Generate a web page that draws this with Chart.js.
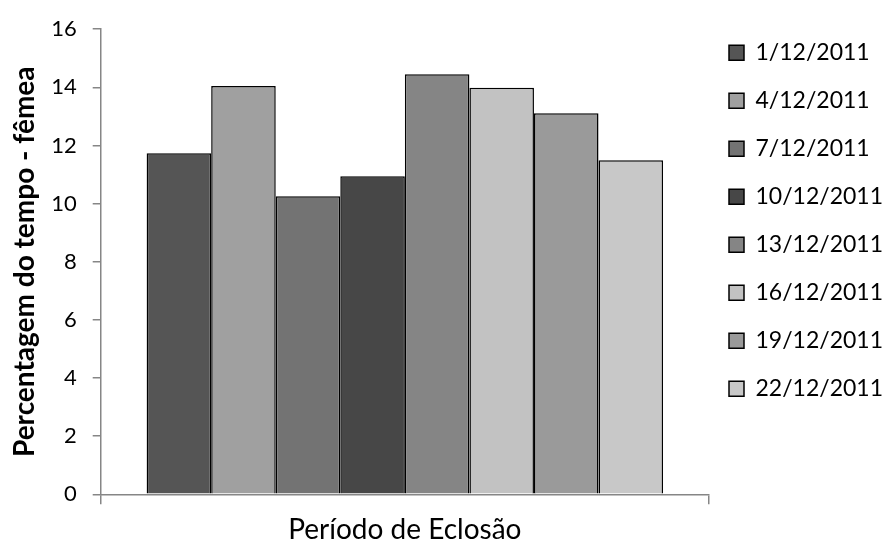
<!DOCTYPE html>
<html>
<head>
<meta charset="utf-8">
<script src="https://cdn.jsdelivr.net/npm/chart.js@4/dist/chart.umd.min.js"></script>
<style>
  html, body { margin: 0; padding: 0; background: #ffffff; }
  #wrap { width: 882px; height: 547px; }
</style>
</head>
<body>
<div id="wrap"><canvas id="c" width="882" height="547"></canvas></div>
<script>
// ---- data ----
const categories = [''];
const seriesNames = ['1/12/2011', '4/12/2011', '7/12/2011', '10/12/2011',
                     '13/12/2011', '16/12/2011', '19/12/2011', '22/12/2011'];
const seriesValues = [11.73, 14.05, 10.25, 10.94, 14.45, 13.99, 13.11, 11.49];
const seriesColors = ['#555555', '#a0a0a0', '#737373', '#474747',
                      '#858585', '#c2c2c2', '#9a9a9a', '#c8c8c8'];
const yTitle = 'Percentagem do tempo - fêmea';
const xTitle = 'Período de Eclosão';
const yMin = 0, yMax = 16, yStep = 2;

const axisGray = '#868686';

const datasets = seriesNames.map((name, i) => ({
  label: name,
  data: [seriesValues[i]],
  backgroundColor: seriesColors[i],
  borderColor: '#000000',
  borderWidth: 1.5,
  barPercentage: 1.0,
  categoryPercentage: 0.849
}));

const legendNudge = {
  id: 'legendNudge',
  afterLayout(chart) {
    const lg = chart.legend;
    if (lg) { lg.left += 8; lg.right += 8; }
  }
};

new Chart(document.getElementById('c'), {
  type: 'bar',
  data: { labels: categories, datasets: datasets },
  plugins: [legendNudge],
  options: {
    responsive: false,
    animation: false,
    devicePixelRatio: 1,
    layout: { padding: { top: 24, right: 0, bottom: 0, left: 0 } },
    plugins: {
      tooltip: { enabled: false },
      legend: {
        position: 'right',
        align: 'start',
        fullSize: false,
        maxWidth: 173,
        labels: {
          color: '#000000',
          boxWidth: 15,
          boxHeight: 15,
          padding: 12,
          font: { family: 'Lato', size: 23, lineHeight: 36 / 23 },
          generateLabels: (chart) =>
            Chart.defaults.plugins.legend.labels.generateLabels(chart)
              .map(l => Object.assign({}, l, { text: [l.text] }))
        }
      }
    },
    scales: {
      x: {
        grid: {
          display: true,
          drawOnChartArea: false,
          drawTicks: true,
          tickLength: 10,
          color: axisGray,
          lineWidth: 1.5,
          offset: true
        },
        border: { display: true, color: axisGray, width: 1.5 },
        ticks: { display: false },
        title: {
          display: true,
          text: xTitle,
          color: '#000000',
          font: { family: 'Lato', size: 28 },
          padding: { top: 20, bottom: 0 }
        },
        afterFit: (s) => { s.height = 52.7; }
      },
      y: {
        min: yMin,
        max: yMax,
        ticks: {
          stepSize: yStep,
          color: '#000000',
          padding: 16,
          font: { family: 'Lato', size: 22 }
        },
        grid: {
          display: true,
          drawOnChartArea: false,
          drawTicks: true,
          tickLength: 8,
          color: axisGray,
          lineWidth: 1.5
        },
        border: { display: true, color: axisGray, width: 1.5 },
        title: {
          display: true,
          text: yTitle,
          color: '#000000',
          font: { family: 'Lato', size: 28, weight: 'bold' },
          padding: { top: 8, bottom: 0 }
        },
        afterFit: (s) => { s.width = 100.7; }
      }
    }
  }
});
</script>
</body>
</html>
